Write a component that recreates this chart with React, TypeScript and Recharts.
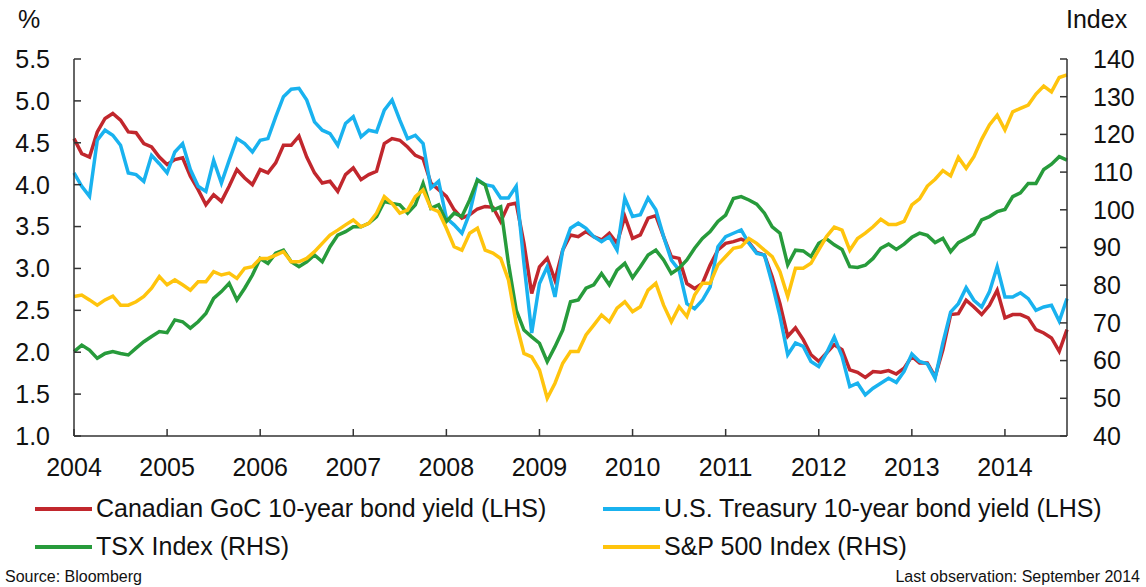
import React from 'react';
import { LineChart, Line, XAxis, YAxis } from 'recharts';

// monthly observations, Jan 2004 .. Sep 2014
const canadianYield = [
  4.55, 4.37, 4.33, 4.63, 4.79, 4.85, 4.77, 4.63, 4.62, 4.49, 4.45, 4.33,
  4.24, 4.3, 4.32, 4.1, 3.94, 3.76, 3.88, 3.8, 3.98, 4.18, 4.08, 4.0,
  4.18, 4.14, 4.26, 4.47, 4.47, 4.58, 4.33, 4.14, 4.02, 4.04, 3.92, 4.12,
  4.2, 4.06, 4.12, 4.16, 4.49, 4.55, 4.53, 4.45, 4.35, 4.31, 4.02, 3.94,
  3.86, 3.7, 3.6, 3.64, 3.71, 3.74, 3.73, 3.56, 3.76, 3.78, 3.3, 2.7,
  3.02, 3.12, 2.86, 3.22, 3.4, 3.38, 3.44, 3.38, 3.34, 3.42, 3.3, 3.62,
  3.36, 3.4, 3.6, 3.63, 3.38, 3.14, 3.12, 2.82, 2.76, 2.82, 3.04, 3.22,
  3.3, 3.32, 3.35, 3.31, 3.19, 3.16, 2.9, 2.58, 2.19, 2.29, 2.15, 1.97,
  1.89, 1.99, 2.09, 2.03, 1.79, 1.76, 1.7, 1.77, 1.76, 1.78, 1.74, 1.81,
  1.95, 1.87, 1.87, 1.71, 2.03, 2.45, 2.46, 2.62, 2.54, 2.45, 2.56, 2.74,
  2.41, 2.45, 2.45, 2.41, 2.27, 2.23, 2.17, 2.01, 2.27,
];

const usYield = [
  4.14, 3.98, 3.86, 4.53, 4.65, 4.59, 4.47, 4.14, 4.12, 4.04, 4.35, 4.25,
  4.14, 4.39, 4.49, 4.18, 3.98, 3.92, 4.29, 4.02, 4.29, 4.55, 4.49, 4.39,
  4.53, 4.55, 4.81, 5.05, 5.14, 5.15, 5.01, 4.75, 4.65, 4.61, 4.47, 4.73,
  4.81, 4.57, 4.65, 4.63, 4.89, 5.01, 4.77, 4.55, 4.59, 4.49, 3.96, 4.04,
  3.6, 3.52, 3.42, 3.66, 4.06, 4.0, 3.98, 3.84, 3.84, 3.98, 3.06, 2.23,
  2.82, 3.02, 2.66, 3.22, 3.48, 3.54, 3.48, 3.38, 3.32, 3.38, 3.22, 3.84,
  3.62, 3.64, 3.84, 3.7, 3.38, 3.1, 2.98, 2.58, 2.52, 2.62, 2.78, 3.26,
  3.38, 3.42, 3.46, 3.3, 3.18, 3.16, 2.82, 2.43, 1.97, 2.11, 2.07, 1.89,
  1.83, 1.99, 2.18, 1.95, 1.59, 1.63, 1.49, 1.57, 1.63, 1.69, 1.64, 1.77,
  1.98, 1.89, 1.86, 1.69, 2.11, 2.48, 2.58, 2.77, 2.62, 2.54, 2.72, 3.02,
  2.66, 2.66, 2.71, 2.64, 2.5, 2.54, 2.56, 2.37, 2.64,
];

const tsxIndex = [
  62.4, 64.1, 62.8, 60.6, 61.9, 62.4, 61.9, 61.5, 63.3, 65.0, 66.4, 67.7,
  67.4, 70.8, 70.3, 68.6, 70.3, 72.5, 76.5, 78.3, 80.5, 76.1, 79.2, 82.7,
  87.1, 85.8, 88.5, 89.3, 86.2, 84.9, 86.2, 88.0, 86.2, 90.2, 93.3, 94.2,
  95.5, 95.5, 96.4, 98.2, 102.2, 101.7, 101.3, 99.1, 101.3, 107.0, 100.4, 101.3,
  96.9, 99.1, 98.2, 102.6, 107.9, 106.6, 99.9, 100.8, 85.8, 73.4, 68.1, 66.3,
  64.6, 59.7, 63.7, 68.1, 75.6, 76.1, 79.2, 80.1, 83.1, 80.1, 84.0, 85.8,
  82.0, 84.9, 88.0, 89.3, 86.7, 83.1, 84.5, 86.7, 89.8, 92.4, 94.2, 96.9,
  98.6, 103.0, 103.5, 102.6, 101.5, 99.1, 95.5, 93.8, 85.4, 89.3, 89.1, 87.6,
  91.1, 92.3, 90.7, 89.5, 84.9, 84.7, 85.3, 87.1, 89.8, 90.9, 89.5, 90.9,
  92.7, 93.8, 93.2, 91.3, 92.4, 88.9, 91.3, 92.4, 93.6, 97.3, 98.2, 99.5,
  100.1, 103.5, 104.5, 107.0, 107.0, 110.7, 112.1, 114.1, 113.2,
];

const sp500Index = [
  77.0, 77.4, 76.1, 74.7, 76.1, 77.1, 74.7, 74.7, 75.6, 77.0, 79.2, 82.3,
  80.1, 81.4, 80.1, 78.7, 80.9, 80.9, 83.6, 82.7, 83.2, 81.8, 84.5, 84.9,
  87.1, 87.1, 88.0, 88.9, 86.2, 86.2, 87.1, 88.9, 91.1, 93.3, 94.6, 96.0,
  97.3, 95.5, 96.4, 99.1, 103.5, 101.7, 99.1, 99.9, 103.5, 105.3, 100.4, 99.5,
  95.1, 90.2, 89.3, 93.8, 95.1, 89.3, 88.5, 87.1, 81.4, 69.9, 61.9, 61.0,
  57.5, 50.0, 54.0, 59.3, 62.4, 62.4, 66.8, 69.4, 72.1, 70.3, 73.9, 75.6,
  73.0, 74.3, 78.7, 80.5, 74.7, 70.3, 74.3, 71.7, 77.4, 80.5, 80.5, 85.4,
  87.6, 89.8, 90.2, 92.4, 91.1, 89.3, 87.6, 83.6, 77.0, 84.5, 84.5, 85.8,
  89.4, 92.9, 95.4, 94.6, 89.3, 92.4, 93.8, 95.5, 97.5, 96.1, 96.1, 96.9,
  101.3, 102.9, 106.3, 108.1, 110.4, 109.0, 113.9, 111.0, 114.1, 118.7, 122.5, 125.1,
  121.2, 126.0, 126.9, 127.8, 130.7, 132.8, 131.3, 135.1, 135.8,
];

const years = [2004, 2005, 2006, 2007, 2008, 2009, 2010, 2011, 2012, 2013, 2014];
const leftTicks = [1.0, 1.5, 2.0, 2.5, 3.0, 3.5, 4.0, 4.5, 5.0, 5.5];
const rightTicks = [40, 50, 60, 70, 80, 90, 100, 110, 120, 130, 140];

const series = [
  { key: 'can', name: 'Canadian GoC 10-year bond yield (LHS)', color: '#c1272d', axis: 'left' },
  { key: 'us', name: 'U.S. Treasury 10-year bond yield (LHS)', color: '#19b2ef', axis: 'left' },
  { key: 'tsx', name: 'TSX Index (RHS)', color: '#279b3b', axis: 'right' },
  { key: 'spx', name: 'S&P 500 Index (RHS)', color: '#ffc40d', axis: 'right' },
];

const data = canadianYield.map((v, i) => ({
  m: i,
  can: v,
  us: usYield[i],
  tsx: tsxIndex[i],
  spx: sp500Index[i],
}));

const FONT = "'Liberation Sans', Arial, sans-serif";
const axisColor = '#333';
const tickStyle = { fontSize: 25, fill: '#111', fontFamily: FONT };

const LegendItem = ({ color, name, left, top }: { color: string; name: string; left: number; top: number }) => (
  <div style={{ position: 'absolute', left, top, display: 'flex', alignItems: 'center', fontFamily: FONT, fontSize: 25, color: '#111', whiteSpace: 'nowrap' }}>
    <span style={{ display: 'inline-block', width: 57, height: 4, background: color, marginRight: 4 }} />
    {name}
  </div>
);

export default function App() {
  return (
    <div style={{ position: 'absolute', left: 0, top: 0, width: 1146, height: 587, background: '#fff', overflow: 'hidden' }}>
      <LineChart width={1146} height={490} data={data} margin={{ top: 59, right: 0, bottom: 0, left: 0 }}>
        <XAxis
          dataKey="m"
          type="number"
          domain={[0, 128]}
          ticks={years.map((y) => (y - 2004) * 12)}
          tickFormatter={(m: number) => String(2004 + m / 12)}
          height={54}
          stroke={axisColor}
          strokeWidth={1.5}
          tickSize={-7}
          tickMargin={29}
          tick={tickStyle}
          interval={0}
        />
        <YAxis
          yAxisId="left"
          orientation="left"
          width={74}
          domain={[1, 5.5]}
          ticks={leftTicks}
          tickFormatter={(v: number) => v.toFixed(1)}
          stroke={axisColor}
          strokeWidth={1.5}
          tickSize={-7}
          tickMargin={31}
          tick={tickStyle}
          interval={0}
        />
        <YAxis
          yAxisId="right"
          orientation="right"
          width={79}
          domain={[40, 140]}
          ticks={rightTicks}
          stroke={axisColor}
          strokeWidth={1.5}
          tickSize={-7}
          tickMargin={33}
          tick={tickStyle}
          interval={0}
        />
        {series.map((s) => (
          <Line
            key={s.key}
            yAxisId={s.axis}
            dataKey={s.key}
            name={s.name}
            stroke={s.color}
            strokeWidth={3.5}
            dot={false}
            type="linear"
            isAnimationActive={false}
          />
        ))}
      </LineChart>

      <div style={{ position: 'absolute', left: 18, top: 5, fontFamily: FONT, fontSize: 25, color: '#111' }}>%</div>
      <div style={{ position: 'absolute', left: 1066, top: 5, fontFamily: FONT, fontSize: 25, color: '#111' }}>Index</div>

      <LegendItem color={series[0].color} name={series[0].name} left={35} top={494} />
      <LegendItem color={series[1].color} name={series[1].name} left={603} top={494} />
      <LegendItem color={series[2].color} name={series[2].name} left={35} top={532} />
      <LegendItem color={series[3].color} name={series[3].name} left={603} top={532} />

      <div style={{ position: 'absolute', left: 5, top: 568, fontFamily: FONT, fontSize: 16, color: '#111' }}>
        Source: Bloomberg
      </div>
      <div style={{ position: 'absolute', right: 6, top: 568, fontFamily: FONT, fontSize: 16, color: '#111' }}>
        Last observation: September 2014
      </div>
    </div>
  );
}
